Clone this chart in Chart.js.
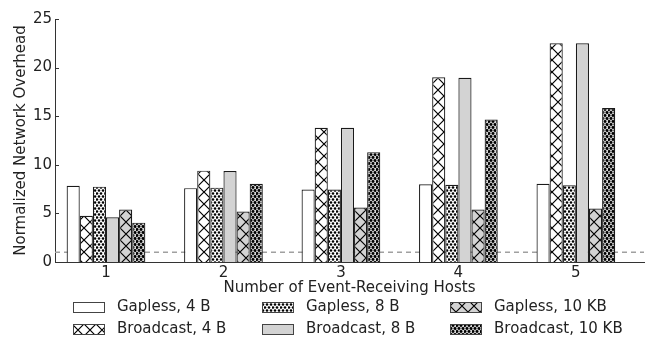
<!DOCTYPE html>
<html>
<head>
<meta charset="utf-8">
<script src="https://cdn.jsdelivr.net/npm/chart.js@4.4.1/dist/chart.umd.min.js"></script>
<style>
  html, body { margin: 0; padding: 0; background: #fff; }
  #wrap { width: 651px; height: 341px; }
</style>
</head>
<body>
<div id="wrap"><canvas id="chart" width="651" height="341"></canvas></div>
<script>
"use strict";

// data
const hosts = [1, 2, 3, 4, 5];
const seriesNames = ["Gapless, 4 B", "Broadcast, 4 B", "Gapless, 8 B", "Broadcast, 8 B", "Gapless, 10 KB", "Broadcast, 10 KB"];
const gapless4 = [7.85, 7.6, 7.45, 8.0, 8.05];
const broadcast4 = [4.75, 9.4, 13.8, 19.0, 22.5];
const gapless8 = [7.75, 7.65, 7.45, 7.95, 7.9];
const broadcast8 = [4.6, 9.35, 13.8, 18.95, 22.5];
const gapless10k = [5.4, 5.2, 5.6, 5.4, 5.5];
const broadcast10k = [4.05, 8.05, 11.3, 14.65, 15.85];
const yTicks = [0, 5, 10, 15, 20, 25];
const refLine = 1;
const legendOrder = [0, 2, 4, 1, 3, 5];

const GREY = "#d3d3d3";
const EDGE = "#1a1a1a";
const font = {family: "DejaVu Sans", size: 15};

function makeTile(w, h, draw) {
  const c = document.createElement("canvas");
  c.width = w;
  c.height = h;
  draw(c.getContext("2d"), w, h);
  return document.createElement("canvas").getContext("2d").createPattern(c, "repeat");
}

function crossHatch(bg) {
  return makeTile(12, 12, (ctx, w, h) => {
    ctx.fillStyle = bg;
    ctx.fillRect(0, 0, w, h);
    ctx.strokeStyle = "#000";
    ctx.lineWidth = 1.2;
    ctx.beginPath();
    ctx.moveTo(0, 0); ctx.lineTo(w, h);
    ctx.moveTo(w, 0); ctx.lineTo(0, h);
    ctx.stroke();
  });
}

function dots(bg, r) {
  return makeTile(8, 6, (ctx, w, h) => {
    ctx.fillStyle = bg;
    ctx.fillRect(0, 0, w, h);
    ctx.fillStyle = "#000";
    [[1, 1.5], [5, 1.5], [3, 4.5], [7, 4.5], [-1, 4.5]].forEach(([x, y]) => {
      ctx.beginPath();
      ctx.arc(x, y, r, 0, Math.PI * 2);
      ctx.fill();
    });
  });
}

const fills = ["#ffffff", crossHatch("#ffffff"), dots("#ffffff", 1.3), GREY, crossHatch(GREY), dots(GREY, 1.45)];
const values = [gapless4, broadcast4, gapless8, broadcast8, gapless10k, broadcast10k];

const datasets = values.map((vals, i) => ({
  label: seriesNames[i],
  data: hosts.map((h, j) => ({x: h, y: vals[j]})),
  backgroundColor: fills[i],
  borderColor: EDGE,
  borderWidth: 1.2,
}));

const refLinePlugin = {
  id: "refLine",
  beforeDatasetsDraw(chart) {
    const {ctx, chartArea, scales} = chart;
    const y = scales.y.getPixelForValue(refLine);
    ctx.save();
    ctx.strokeStyle = "#a0a0a0";
    ctx.lineWidth = 1.5;
    ctx.setLineDash([5, 4]);
    ctx.beginPath();
    ctx.moveTo(chartArea.left, y);
    ctx.lineTo(chartArea.right, y);
    ctx.stroke();
    ctx.restore();
  }
};

const innerTicks = {
  id: "innerTicks",
  afterDraw(chart) {
    const {ctx, chartArea, scales} = chart;
    ctx.save();
    ctx.strokeStyle = "#333";
    ctx.lineWidth = 1;
    yTicks.forEach((v) => {
      const y = Math.round(scales.y.getPixelForValue(v)) + 0.5;
      ctx.beginPath();
      ctx.moveTo(chartArea.left, y);
      ctx.lineTo(chartArea.left + 4, y);
      ctx.stroke();
    });
    ctx.restore();
  }
};

const gridLegend = {
  id: "gridLegend",
  afterDraw(chart) {
    const {ctx} = chart;
    const colX = [73, 262, 450];
    const rowY = [307, 329];
    ctx.save();
    ctx.font = font.size + "px " + font.family;
    ctx.textBaseline = "middle";
    ctx.textAlign = "left";
    legendOrder.forEach((di, k) => {
      const ds = chart.data.datasets[di];
      const x = colX[k % 3];
      const y = rowY[Math.floor(k / 3)];
      ctx.fillStyle = ds.backgroundColor;
      ctx.fillRect(x, y - 5, 31, 10);
      ctx.strokeStyle = "#444";
      ctx.lineWidth = 1;
      ctx.strokeRect(x + 0.5, y - 4.5, 31, 10);
      ctx.fillStyle = "#222";
      ctx.fillText(ds.label, x + 44, y);
    });
    ctx.restore();
  }
};

new Chart(document.getElementById("chart"), {
  type: "bar",
  data: {datasets: datasets},
  options: {
    responsive: false,
    animation: false,
    devicePixelRatio: 1,
    layout: {padding: {top: 19, right: 7, bottom: 44, left: 0}},
    datasets: {bar: {categoryPercentage: 0.67, barPercentage: 1.0}},
    plugins: {legend: {display: false}, tooltip: {enabled: false}},
    scales: {
      x: {
        type: "linear",
        min: 0.566,
        max: 5.58,
        offset: false,
        grid: {display: false, drawTicks: false},
        border: {color: "#333", width: 1},
        ticks: {color: "#222", font: font, padding: 2},
        afterBuildTicks: (s) => { s.ticks = hosts.map((v) => ({value: v})); },
        afterFit: (s) => { s.height = 35; },
        title: {display: true, text: "Number of Event-Receiving Hosts", color: "#222", font: font, padding: 0}
      },
      y: {
        min: 0,
        max: 25,
        grid: {display: false, drawTicks: false},
        border: {color: "#333", width: 1},
        ticks: {color: "#222", font: font, padding: 3, stepSize: 5},
        afterBuildTicks: (s) => { s.ticks = yTicks.map((v) => ({value: v})); },
        afterFit: (s) => { s.width = 55; },
        title: {display: true, text: "Normalized Network Overhead", color: "#222", font: font, padding: {top: 12, bottom: 0}}
      }
    }
  },
  plugins: [refLinePlugin, innerTicks, gridLegend]
});
</script>
</body>
</html>
